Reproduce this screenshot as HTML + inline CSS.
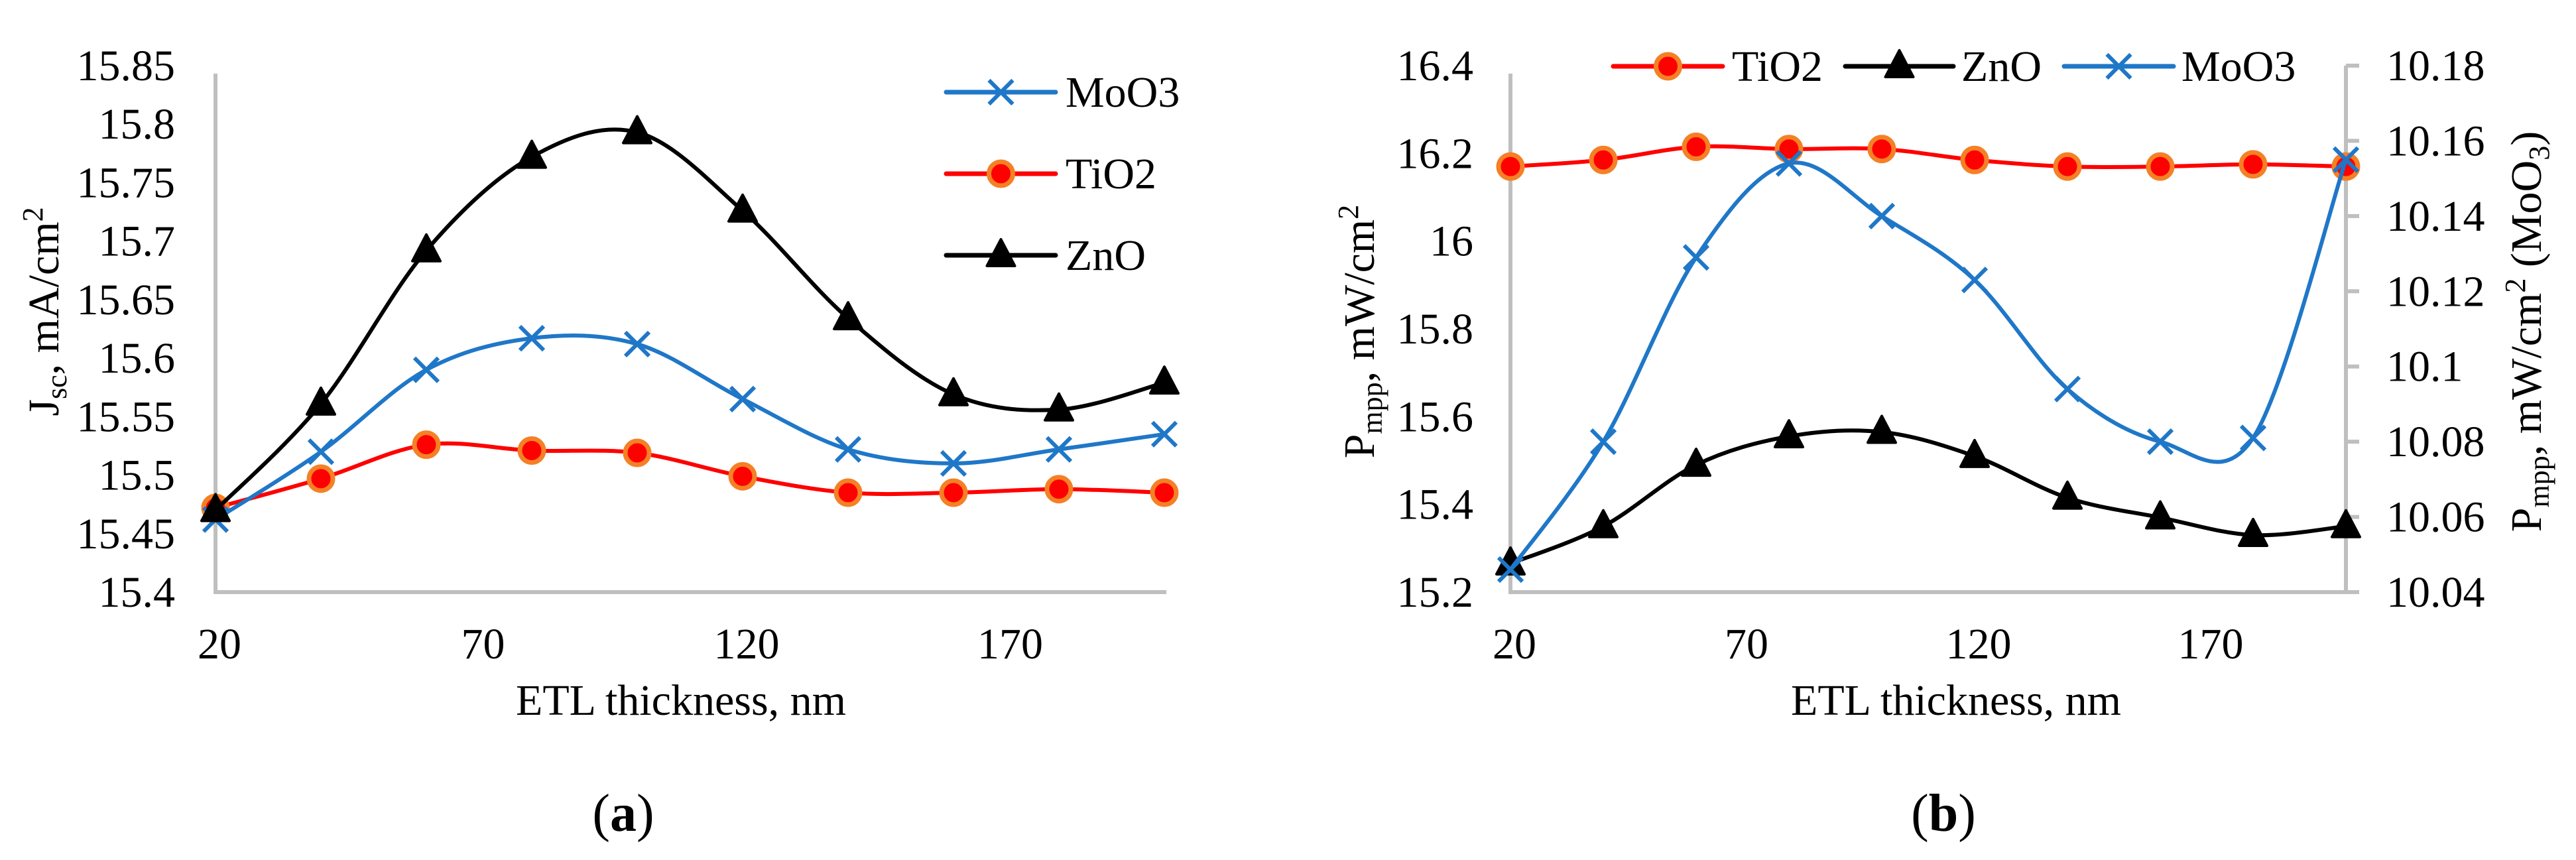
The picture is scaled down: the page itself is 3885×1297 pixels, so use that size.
<!DOCTYPE html>
<html><head><meta charset="utf-8">
<style>
html,body{margin:0;padding:0;background:#fff;}
svg{display:block;font-family:"Liberation Serif",serif;}
</style></head>
<body>
<svg id="fig" width="3885" height="1297" viewBox="0 0 3885 1297" xmlns="http://www.w3.org/2000/svg"></svg>
<script>
const xVals = [20,40,60,80,100,120,140,160,180,200];
const xTicks = [20,70,120,170];
// Chart (a): Jsc
const aMoO3 = [15.462,15.52,15.59,15.617,15.612,15.565,15.522,15.51,15.522,15.535];
const aTiO2 = [15.472,15.497,15.526,15.521,15.519,15.499,15.485,15.485,15.488,15.485];
const aZnO  = [15.47,15.561,15.692,15.772,15.793,15.726,15.634,15.569,15.556,15.579];
const aYTicks = ["15.4","15.45","15.5","15.55","15.6","15.65","15.7","15.75","15.8","15.85"];
// Chart (b): Pmpp
const bTiO2 = [16.17,16.185,16.215,16.21,16.21,16.185,16.17,16.17,16.175,16.17];
const bZnO  = [15.265,15.35,15.49,15.555,15.565,15.51,15.415,15.37,15.33,15.35];
const bMoO3 = [10.046,10.080,10.129,10.154,10.140,10.123,10.094,10.080,10.081,10.155];
const bYTicks = ["15.2","15.4","15.6","15.8","16","16.2","16.4"];
const bY2Ticks = ["10.04","10.06","10.08","10.1","10.12","10.14","10.16","10.18"];

const NS="http://www.w3.org/2000/svg";
const svg=document.getElementById('fig');
const FS=66;
function mk(tag,attrs,parent){const e=document.createElementNS(NS,tag);for(const k in attrs)e.setAttribute(k,attrs[k]);(parent||svg).appendChild(e);return e;}
function txt(s,attrs,parent){const e=mk('text',attrs,parent);e.textContent=s;return e;}

function smoothPath(pts){
  let d=`M${pts[0][0]},${pts[0][1]}`;
  for(let i=0;i<pts.length-1;i++){
    const p0=pts[Math.max(0,i-1)],p1=pts[i],p2=pts[i+1],p3=pts[Math.min(pts.length-1,i+2)];
    const c1=[p1[0]+(p2[0]-p0[0])/6,p1[1]+(p2[1]-p0[1])/6];
    const c2=[p2[0]-(p3[0]-p1[0])/6,p2[1]-(p3[1]-p1[1])/6];
    d+=` C${c1[0]},${c1[1]} ${c2[0]},${c2[1]} ${p2[0]},${p2[1]}`;
  }
  return d;
}
function marker(type,x,y,g){
  let m;
  if(type==='circle'){m=mk('circle',{cx:x,cy:y,r:18,fill:'#ff0000',stroke:'#f58025','stroke-width':7},g);}
  else if(type==='tri'){m=mk('polygon',{points:`${x},${y-24} ${x-21},${y+16} ${x+21},${y+16}`,fill:'#000',stroke:'#000','stroke-width':4,'stroke-linejoin':'round'},g);}
  else {m=mk('path',{d:`M${x-18},${y-18}L${x+18},${y+18}M${x-18},${y+18}L${x+18},${y-18}`,stroke:'#1f77c8','stroke-width':6,fill:'none'},g);}
  return m;
}
const styles={MoO3:{c:'#1f77c8',m:'x'},TiO2:{c:'#ff0000',m:'circle'},ZnO:{c:'#000',m:'tri'}};
function series(name,vals,xs,ys,g){
  const sg=mk('g',{},g);
  
  
  const pts=vals.map((v,i)=>[xs(xVals[i]),ys(v)]);
  const p=mk('path',{d:smoothPath(pts),fill:'none',stroke:styles[name].c,'stroke-width':6},sg);
  
  
  pts.forEach((pt,i)=>{const m=marker(styles[name].m,pt[0],pt[1],sg);
    
    });
}
function legendEntry(name,x1,x2,y,tx,g){
  const lg=mk('g',{},g);
  
  
  mk('line',{x1:x1,y1:y,x2:x2,y2:y,stroke:styles[name].c,'stroke-width':7,'stroke-linecap':'round'},lg);
  marker(styles[name].m,(x1+x2)/2,y,lg);
  txt(name,{x:tx,y:y+22,'font-size':FS},lg);
}

// ---------- Chart A ----------
(function(){
  const g=mk('g',{});
  
  
  const X0=325,X1=1756,Yb=893,Yt=99,ymin=15.4,ymax=15.85;
  const xs=v=>X0+(v-20)/180*(X1-X0);
  const ys=v=>Yb-(v-ymin)/(ymax-ymin)*(Yb-Yt);
  mk('line',{x1:X0,y1:Yt+12,x2:X0,y2:Yb,stroke:'#bfbfbf','stroke-width':6},g);
  mk('line',{x1:X0-3,y1:Yb,x2:X1+3,y2:Yb,stroke:'#bfbfbf','stroke-width':6},g);
  aYTicks.forEach(t=>{const e=txt(t,{x:264,y:ys(parseFloat(t))+22,'text-anchor':'end','font-size':FS},g);
    });
  xTicks.forEach(t=>{const e=txt(String(t),{x:xs(t)+6,y:993,'text-anchor':'middle','font-size':FS},g);
    });
  const xt=txt('ETL thickness, nm',{x:1027,y:1078,'text-anchor':'middle','font-size':FS},g);
  
  const yt=mk('text',{transform:'translate(88,470) rotate(-90)','text-anchor':'middle','font-size':FS},g);
  
  yt.innerHTML='J<tspan font-size="44" dy="12">sc</tspan><tspan dy="-12">, mA/cm</tspan><tspan font-size="44" dy="-24">2</tspan>';
  series('TiO2',aTiO2,xs,ys,g);
  series('MoO3',aMoO3,xs,ys,g);
  series('ZnO',aZnO,xs,ys,g);
  const lg=mk('g',{},g);
  legendEntry('MoO3',1427,1592,139,1607,lg);
  legendEntry('TiO2',1427,1592,262,1607,lg);
  legendEntry('ZnO',1427,1592,385,1607,lg);
  const cap=mk('text',{x:940,y:1253,'text-anchor':'middle','font-size':80},g);
  
  cap.innerHTML='(<tspan font-weight="bold">a</tspan>)';
})();

// ---------- Chart B ----------
(function(){
  const g=mk('g',{});
  
  
  const X0=2278,X1=3538,Yb=893,Yt=99,ymin=15.2,ymax=16.4,y2min=10.04,y2max=10.18;
  const xs=v=>X0+(v-20)/180*(X1-X0);
  const ys=v=>Yb-(v-ymin)/(ymax-ymin)*(Yb-Yt);
  const ys2=v=>Yb-(v-y2min)/(y2max-y2min)*(Yb-Yt);
  mk('line',{x1:X0,y1:Yt+12,x2:X0,y2:Yb,stroke:'#bfbfbf','stroke-width':6},g);
  mk('line',{x1:X0-3,y1:Yb,x2:X1+3,y2:Yb,stroke:'#bfbfbf','stroke-width':6},g);
  mk('line',{x1:X1,y1:Yt,x2:X1,y2:Yb,stroke:'#bfbfbf','stroke-width':6},g);
  bY2Ticks.forEach(t=>{mk('line',{x1:X1,x2:X1+20,y1:ys2(parseFloat(t)),y2:ys2(parseFloat(t)),stroke:'#bfbfbf','stroke-width':6},g);});
  bYTicks.forEach(t=>{const e=txt(t,{x:2222,y:ys(parseFloat(t))+22,'text-anchor':'end','font-size':FS},g);
    });
  bY2Ticks.forEach(t=>{const e=txt(t,{x:3599,y:ys2(parseFloat(t))+22,'text-anchor':'start','font-size':FS},g);
    });
  xTicks.forEach(t=>{const e=txt(String(t),{x:xs(t)+6,y:993,'text-anchor':'middle','font-size':FS},g);
    });
  const xt=txt('ETL thickness, nm',{x:2950,y:1078,'text-anchor':'middle','font-size':FS},g);
  
  const yt=mk('text',{transform:'translate(2072,500) rotate(-90)','text-anchor':'middle','font-size':FS},g);
  
  yt.innerHTML='P<tspan font-size="44" dy="12">mpp</tspan><tspan dy="-12">, mW/cm</tspan><tspan font-size="44" dy="-24">2</tspan>';
  const yt2=mk('text',{transform:'translate(3832,500) rotate(-90)','text-anchor':'middle','font-size':FS},g);
  
  yt2.innerHTML='P<tspan font-size="44" dy="12">mpp</tspan><tspan dy="-12">, mW/cm</tspan><tspan font-size="44" dy="-24">2</tspan><tspan dy="24"> (MoO</tspan><tspan font-size="44" dy="12">3</tspan><tspan dy="-12">)</tspan>';
  series('TiO2',bTiO2,xs,ys,g);
  series('ZnO',bZnO,xs,ys,g);
  series('MoO3',bMoO3,xs,ys2,g);
  const lg=mk('g',{},g);
  legendEntry('TiO2',2433,2598,100,2612,lg);
  legendEntry('ZnO',2783,2946,100,2958,lg);
  legendEntry('MoO3',3113,3278,100,3290,lg);
  const cap=mk('text',{x:2931,y:1253,'text-anchor':'middle','font-size':80},g);
  
  cap.innerHTML='(<tspan font-weight="bold">b</tspan>)';
})();
</script>
</body></html>
